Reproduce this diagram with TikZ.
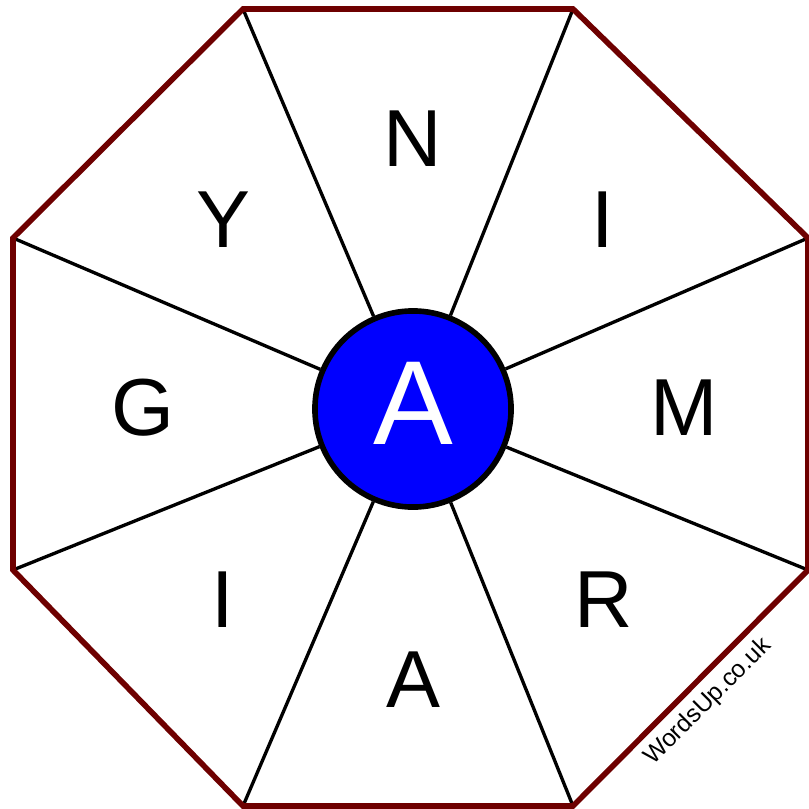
\documentclass[tikz,border=0pt]{standalone}
\usepackage{fontspec}
\setmainfont{Liberation Sans}
\usetikzlibrary{positioning}
\definecolor{rimred}{RGB}{110,0,0}
\definecolor{hubblue}{RGB}{0,0,255}

\begin{document}
\begin{tikzpicture}[x=0.01cm,y=-0.01cm,
  rim/.style={line width=1.6pt,rimred,line join=miter},
  spoke/.style={line width=0.95pt,black},
  letter/.style={font=\fontsize{23}{23}\selectfont,inner sep=0pt}]
\useasboundingbox (0,0) rectangle (808,809);
% Octagon corners
\foreach \x/\y/\n in {243/9/v1,573/9/v2,808/238/v3,808/570/v4,573/806/v5,243/806/v6,13/570/v7,13/238/v8} {
  \coordinate (\n) at (\x,\y);
}
% Centre letter
\node[circle, draw, line width=1.6pt, fill=hubblue, minimum size=1.96cm, inner sep=0pt] (hub) at (413,409) {};
\node[inner sep=0pt, font=\fontsize{34}{34}\selectfont, text=white] (mid) at (413,403) {A};
% Spokes
\foreach \n in {v1,v2,v3,v4,v5,v6,v7,v8} {
  \draw[spoke] (\n) -- (hub);
}
% Outline
\draw[rim] (v1) -- (v2) -- (v3) -- (v4) -- (v5) -- (v6) -- (v7) -- (v8) -- cycle;
% Outer letters
\foreach \x/\y/\l/\n in {413/139/N/s1,603/220/I/s2,684/408/M/s3,604/600/R/s4,413/680/A/s5,223/600/I/s6,143/408/G/s7,223/220/Y/s8} {
  \node[letter] (\n) at (\x,\y) {\l};
}
\node[font=\fontsize{7}{7}\selectfont, rotate=45, inner sep=0pt] (mark) at (708,702) {WordsUp.co.uk};
\end{tikzpicture}
\end{document}
